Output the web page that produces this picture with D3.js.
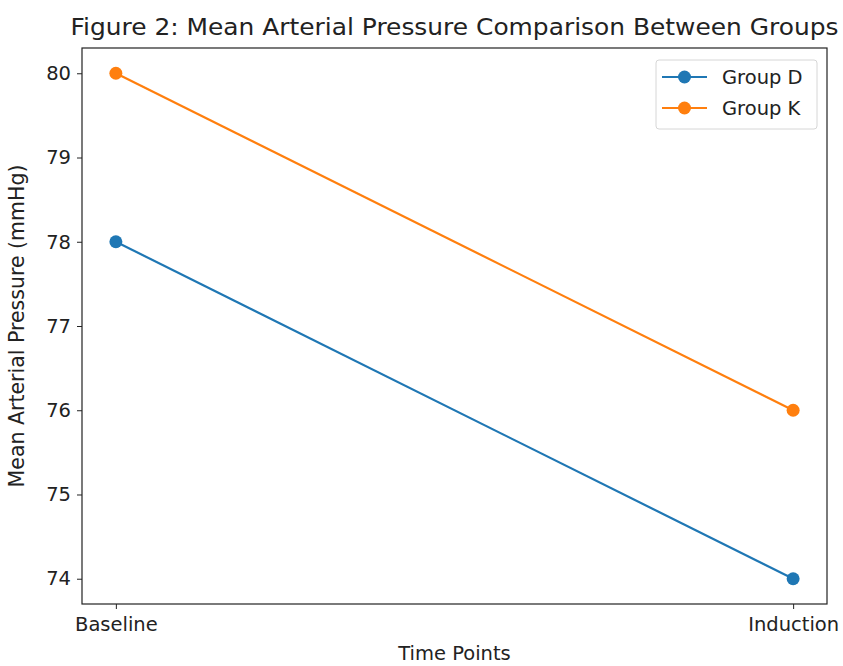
<!DOCTYPE html>
<html>
<head>
<meta charset="utf-8">
<script src="https://cdn.jsdelivr.net/npm/d3@7"></script>
<style>
  body { margin: 0; background: #fff; }
  svg text { font-family: "DejaVu Sans", sans-serif; fill: #222; }
</style>
</head>
<body>
<div id="chart"></div>
<script>
const timePoints = ['Baseline', 'Induction'];
const groupD = [78, 74];
const groupK = [80, 76];
const yTicks = [74, 75, 76, 77, 78, 79, 80];
const seriesNames = ['Group D', 'Group K'];
const colors = ['#1f77b4', '#ff7f0e'];

const W = 843, H = 666;
const margin = { top: 48, right: 16, bottom: 62, left: 82 };
const width = W - margin.left - margin.right;
const height = H - margin.top - margin.bottom;

const svg = d3.select('#chart').append('svg')
  .attr('width', W)
  .attr('height', H);

const g = svg.append('g')
  .attr('transform', 'translate(' + margin.left + ',' + margin.top + ')');

const x = d3.scalePoint().domain(timePoints).range([width * 0.05 / 1.1, width * 1.05 / 1.1]);
const y = d3.scaleLinear().domain([73.7, 80.3]).range([height, 0]);

// axes
const xAxis = g.append('g')
  .attr('transform', 'translate(0,' + height + ')')
  .call(d3.axisBottom(x).tickSize(5).tickPadding(5));
const yAxis = g.append('g')
  .call(d3.axisLeft(y).tickValues(yTicks).tickFormat(d3.format('d')).tickSize(5).tickPadding(6));
[xAxis, yAxis].forEach(a => {
  a.select('.domain').remove();
  a.selectAll('line').attr('stroke', '#222');
  a.selectAll('text').style('font-size', '19.5px').attr('fill', '#222');
});
xAxis.selectAll('text').attr('dy', '0.85em');

// frame
g.append('rect')
  .attr('width', width)
  .attr('height', height)
  .attr('fill', 'none')
  .attr('stroke', '#222')
  .attr('stroke-width', 1.2);

// lines
const line = d3.line().x((d, i) => x(timePoints[i])).y(d => y(d));
[groupD, groupK].forEach((vals, k) => {
  g.append('path')
    .datum(vals)
    .attr('d', line)
    .attr('fill', 'none')
    .attr('stroke', colors[k])
    .attr('stroke-width', 2.2);
  g.selectAll('.dot' + k)
    .data(vals)
    .enter().append('circle')
    .attr('cx', (d, i) => x(timePoints[i]))
    .attr('cy', d => y(d))
    .attr('r', 6.5)
    .attr('fill', colors[k]);
});

// title & labels
svg.append('text')
  .attr('x', margin.left + width / 2)
  .attr('y', 35)
  .attr('text-anchor', 'middle')
  .attr('textLength', 768)
  .attr('lengthAdjust', 'spacingAndGlyphs')
  .style('font-size', '23px')
  .text('Figure 2: Mean Arterial Pressure Comparison Between Groups');

svg.append('text')
  .attr('x', margin.left + width / 2)
  .attr('y', 660)
  .attr('text-anchor', 'middle')
  .style('font-size', '19.5px')
  .text('Time Points');

svg.append('text')
  .attr('transform', 'translate(24,' + (margin.top + height / 2) + ') rotate(-90)')
  .attr('text-anchor', 'middle')
  .style('font-size', '20.5px')
  .text('Mean Arterial Pressure (mmHg)');

// legend
const legend = svg.append('g').attr('transform', 'translate(656,60)');
legend.append('rect')
  .attr('width', 161)
  .attr('height', 69)
  .attr('rx', 3)
  .attr('fill', '#fff')
  .attr('stroke', '#d6d6d6');
seriesNames.forEach((name, k) => {
  const yy = 17 + k * 31;
  legend.append('line')
    .attr('x1', 6).attr('x2', 51)
    .attr('y1', yy).attr('y2', yy)
    .attr('stroke', colors[k])
    .attr('stroke-width', 2.2);
  legend.append('circle')
    .attr('cx', 28.5).attr('cy', yy).attr('r', 6.5)
    .attr('fill', colors[k]);
  legend.append('text')
    .attr('x', 66).attr('y', yy)
    .attr('dy', '0.35em')
    .style('font-size', '19.5px')
    .text(name);
});
</script>
</body>
</html>
